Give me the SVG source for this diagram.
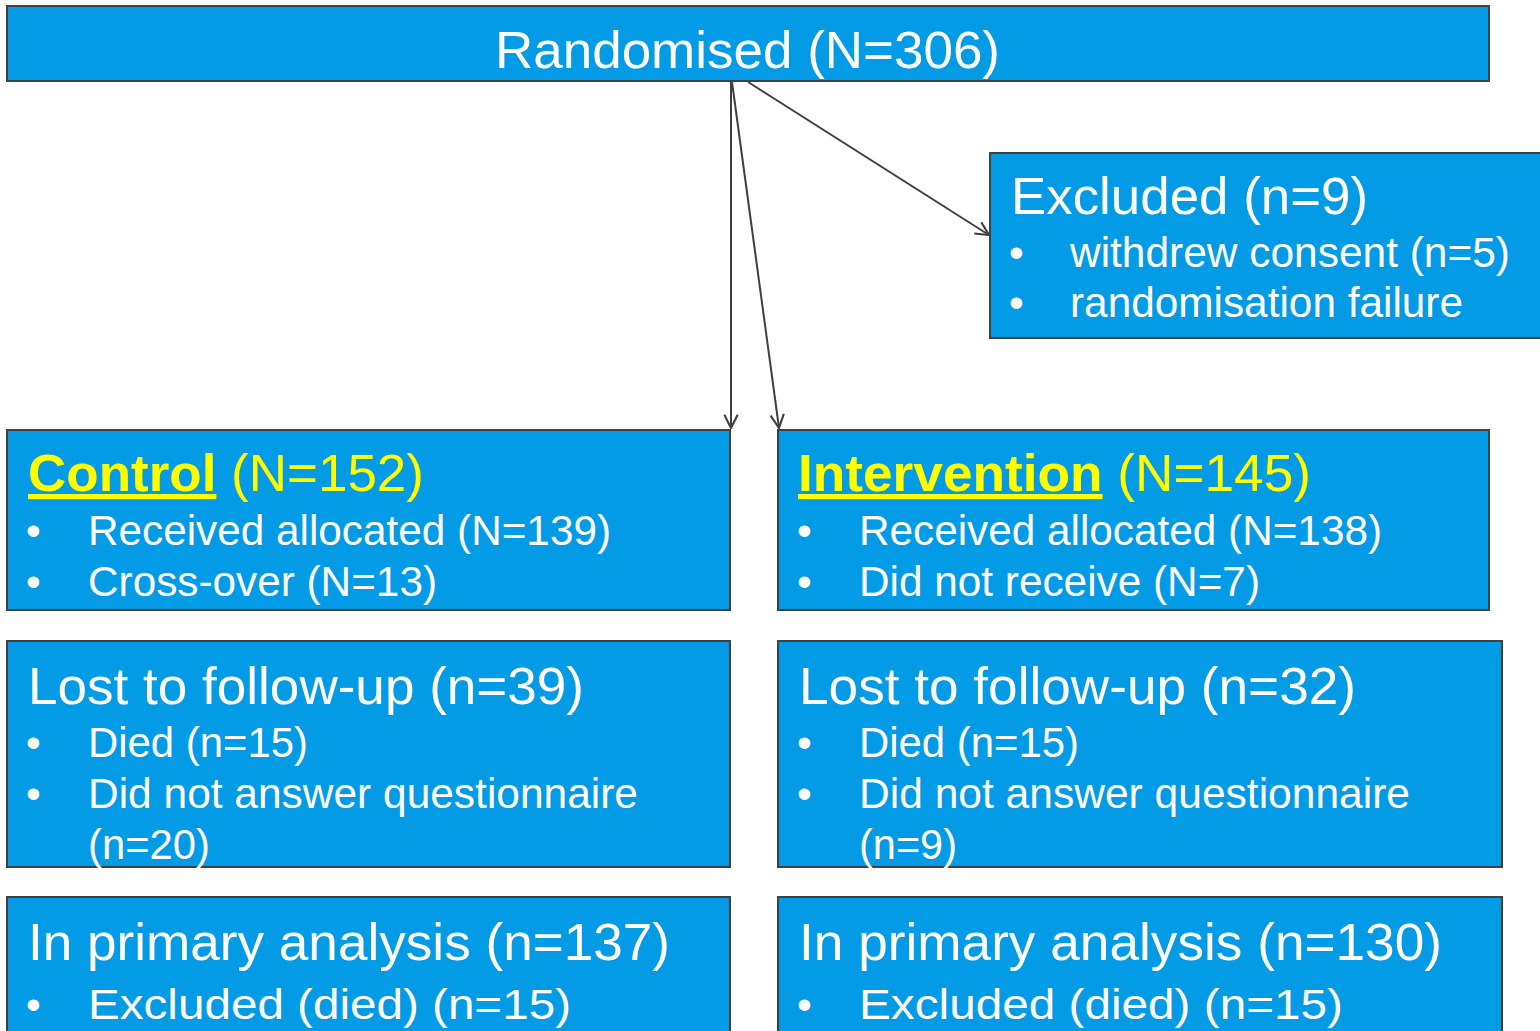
<svg xmlns="http://www.w3.org/2000/svg" width="1540" height="1031" viewBox="0 0 1540 1031">
<defs>
<marker id="arr" viewBox="0 0 12 12" refX="11" refY="6" markerWidth="16" markerHeight="16" markerUnits="userSpaceOnUse" orient="auto">
<path d="M1,1 L11,6 L1,11" fill="none" stroke="#404040" stroke-width="1.6"/>
</marker>
<style>
.box{fill:#039BE5;stroke:#404040;stroke-width:2}
text{font-family:"Liberation Sans",Arial,sans-serif;fill:#FFFFFF}
.t{font-size:52px}
.b{font-size:42px}
.y{fill:#FFFF00}
.bold{font-weight:bold;text-decoration:underline}
.conn line{stroke:#404040;stroke-width:2;marker-end:url(#arr)}
</style>
</defs>
<rect width="1540" height="1031" fill="#FFFFFF"/>
<g id="randomised">
<rect class="box" x="7" y="6" width="1482" height="75"/>
<text class="t" x="495" y="68" textLength="505" lengthAdjust="spacingAndGlyphs">Randomised (N=306)</text>
</g>
<g id="excluded">
<rect class="box" x="990" y="153" width="560" height="185"/>
<text class="t" x="1011" y="214" textLength="357" lengthAdjust="spacingAndGlyphs">Excluded (n=9)</text>
<text class="b" x="1009" y="267">•</text>
<text class="b" x="1070" y="267" textLength="440" lengthAdjust="spacingAndGlyphs">withdrew consent (n=5)</text>
<text class="b" x="1009" y="317">•</text>
<text class="b" x="1070" y="317" textLength="393" lengthAdjust="spacingAndGlyphs">randomisation failure</text>
</g>
<g id="control">
<rect class="box" x="7" y="430" width="723" height="180"/>
<text class="t y" x="28" y="491" textLength="396" lengthAdjust="spacingAndGlyphs"><tspan class="bold">Control</tspan> (N=152)</text>
<text class="b" x="26" y="545">•</text>
<text class="b" x="88" y="545" textLength="523" lengthAdjust="spacingAndGlyphs">Received allocated (N=139)</text>
<text class="b" x="26" y="596">•</text>
<text class="b" x="88" y="596" textLength="349" lengthAdjust="spacingAndGlyphs">Cross-over (N=13)</text>
</g>
<g id="intervention">
<rect class="box" x="778" y="430" width="711" height="180"/>
<text class="t y" x="798" y="491" textLength="513" lengthAdjust="spacingAndGlyphs"><tspan class="bold">Intervention</tspan> (N=145)</text>
<text class="b" x="797" y="545">•</text>
<text class="b" x="859" y="545" textLength="523" lengthAdjust="spacingAndGlyphs">Received allocated (N=138)</text>
<text class="b" x="797" y="596">•</text>
<text class="b" x="859" y="596" textLength="401" lengthAdjust="spacingAndGlyphs">Did not receive (N=7)</text>
</g>
<g id="lost-control">
<rect class="box" x="7" y="641" width="723" height="226"/>
<text class="t" x="28" y="704" textLength="556" lengthAdjust="spacingAndGlyphs">Lost to follow-up (n=39)</text>
<text class="b" x="26" y="757">•</text>
<text class="b" x="88" y="757" textLength="220" lengthAdjust="spacingAndGlyphs">Died (n=15)</text>
<text class="b" x="26" y="808">•</text>
<text class="b" x="88" y="808" textLength="550" lengthAdjust="spacingAndGlyphs">Did not answer questionnaire</text>
<text class="b" x="88" y="859" textLength="122" lengthAdjust="spacingAndGlyphs">(n=20)</text>
</g>
<g id="lost-intervention">
<rect class="box" x="778" y="641" width="724" height="226"/>
<text class="t" x="799" y="704" textLength="557" lengthAdjust="spacingAndGlyphs">Lost to follow-up (n=32)</text>
<text class="b" x="797" y="757">•</text>
<text class="b" x="859" y="757" textLength="220" lengthAdjust="spacingAndGlyphs">Died (n=15)</text>
<text class="b" x="797" y="808">•</text>
<text class="b" x="859" y="808" textLength="551" lengthAdjust="spacingAndGlyphs">Did not answer questionnaire</text>
<text class="b" x="859" y="859" textLength="98" lengthAdjust="spacingAndGlyphs">(n=9)</text>
</g>
<g id="primary-control">
<rect class="box" x="7" y="897" width="723" height="150"/>
<text class="t" x="28" y="960" textLength="642" lengthAdjust="spacingAndGlyphs">In primary analysis (n=137)</text>
<text class="b" x="26" y="1019">•</text>
<text class="b" x="88" y="1019" textLength="483" lengthAdjust="spacingAndGlyphs">Excluded (died) (n=15)</text>
</g>
<g id="primary-intervention">
<rect class="box" x="778" y="897" width="724" height="150"/>
<text class="t" x="799" y="960" textLength="643" lengthAdjust="spacingAndGlyphs">In primary analysis (n=130)</text>
<text class="b" x="797" y="1019">•</text>
<text class="b" x="859" y="1019" textLength="484" lengthAdjust="spacingAndGlyphs">Excluded (died) (n=15)</text>
</g>
<g id="connectors" class="conn">
<line x1="731" y1="82" x2="731" y2="428"/>
<line x1="732" y1="82" x2="779" y2="428"/>
<line x1="748" y1="82" x2="989" y2="235"/>
</g>
</svg>
